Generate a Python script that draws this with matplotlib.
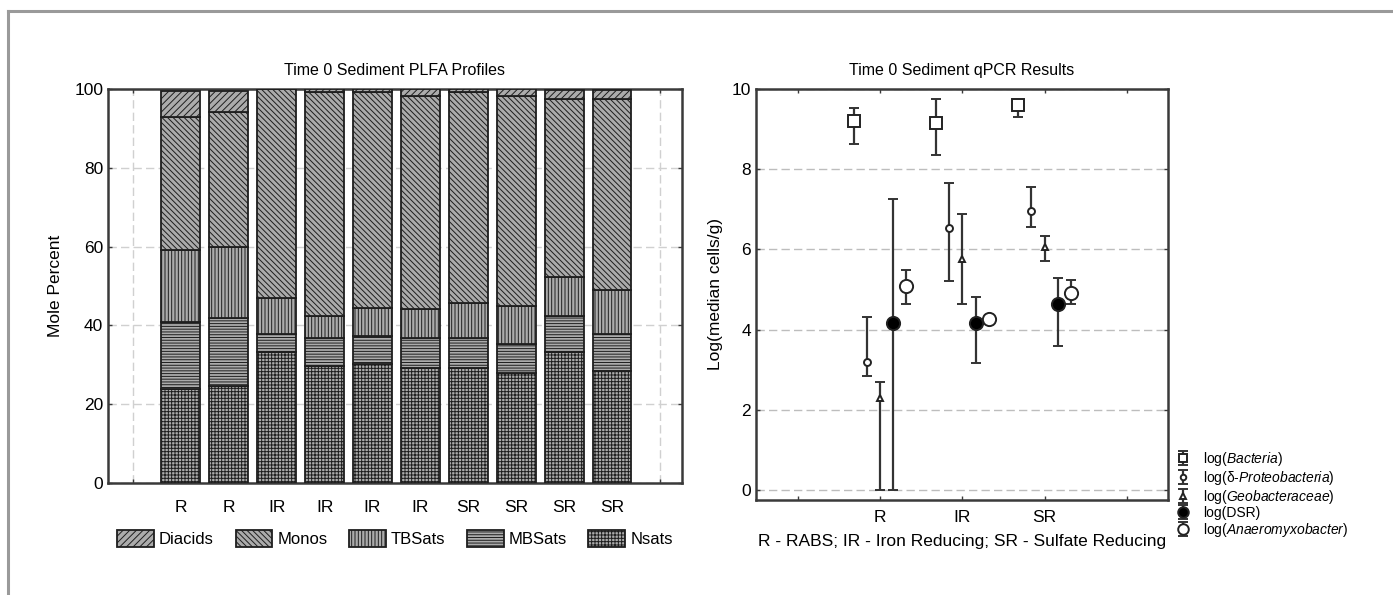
import matplotlib
matplotlib.use('Agg')
import matplotlib.pyplot as plt
from matplotlib.lines import Line2D
import numpy as np

plt.rcParams['font.family'] = ['Liberation Sans', 'DejaVu Sans']
plt.rcParams['mathtext.fontset'] = 'custom'
plt.rcParams['mathtext.rm'] = 'Liberation Sans'
plt.rcParams['mathtext.it'] = 'Liberation Sans:italic'
plt.rcParams['hatch.color'] = '#333333'
plt.rcParams['hatch.linewidth'] = 0.7

# PLFA profiles (mole percent), one value per sample
plfa_samples = ['R', 'R', 'IR', 'IR', 'IR', 'IR', 'SR', 'SR', 'SR', 'SR']
nsats = [23.8, 24.6, 33.3, 29.7, 30.1, 29.2, 29.2, 28.0, 33.3, 28.4]
mbsats = [17.1, 17.3, 4.4, 7.1, 7.1, 7.6, 7.6, 7.2, 9.0, 9.5]
tbsats = [18.2, 17.9, 9.3, 5.6, 7.2, 7.3, 8.9, 9.7, 10.1, 11.1]
monos = [33.8, 34.3, 52.9, 56.8, 54.8, 54.2, 53.5, 53.4, 45.1, 48.5]
diacids = [6.5, 5.3, 0.1, 0.8, 0.8, 1.7, 0.8, 1.7, 2.3, 2.3]

# qPCR results: median log cells/g with lower / upper bounds
qpcr_groups = ['R', 'IR', 'SR']
bacteria = [9.21, 9.14, 9.60]
bacteria_lo = [8.62, 8.35, 9.30]
bacteria_hi = [9.53, 9.74, 9.65]
delta = [3.18, 6.53, 6.95]
delta_lo = [2.84, 5.22, 6.55]
delta_hi = [4.31, 7.65, 7.55]
geo = [2.29, 5.75, 6.05]
geo_lo = [0.0, 4.64, 5.72]
geo_hi = [2.70, 6.88, 6.33]
dsr = [4.17, 4.17, 4.64]
dsr_lo = [0.0, 3.16, 3.59]
dsr_hi = [7.26, 4.82, 5.29]
anaero = [5.09, 4.26, 4.90]
anaero_lo = [4.64, 4.18, 4.64]
anaero_hi = [5.49, 4.36, 5.24]

W, H = 1393, 595
fig = plt.figure(figsize=(W / 100, H / 100), dpi=100)

# gray border of the panel
fig.add_artist(Line2D([8 / W, 8 / W], [0, 1 - 11 / H], color='#9a9a9a', lw=2.2))
fig.add_artist(Line2D([8 / W, 1], [1 - 11 / H, 1 - 11 / H], color='#9a9a9a', lw=2.2))

frame_col = '#3a3a3a'

# ---------------- left: stacked PLFA bars ----------------
ax1 = fig.add_axes([108 / W, 1 - 483 / H, 574 / W, 394 / H])
x = np.arange(1, len(plfa_samples) + 1)
segments = [
    ('Nsats', nsats, '+++++'),
    ('MBSats', mbsats, '------'),
    ('TBSats', tbsats, '|||||'),
    ('Monos', monos, '\\\\\\\\\\\\'),
    ('Diacids', diacids, '/////'),
]
bottom = np.zeros(len(x))
handles = {}
for name, vals, hatch in segments:
    b = ax1.bar(x, vals, 0.81, bottom=bottom, color='#ababab', edgecolor='#1e1e1e',
                linewidth=1.3, hatch=hatch, label=name, zorder=3)
    handles[name] = b
    bottom += np.array(vals)

ax1.set_xlim(-0.52, 11.46)
ax1.set_ylim(0, 100)
ax1.set_xticks(np.arange(0, 12))
ax1.set_xticklabels([''] + plfa_samples + [''])
ax1.set_yticks([0, 20, 40, 60, 80, 100])
ax1.tick_params(direction='in', top=True, right=True, length=3, width=1,
                labelsize=12.5, color=frame_col)
ax1.tick_params(axis='x', pad=12)
ax1.grid(True, color='#d0d0d0', linestyle=(0, (6, 3)), linewidth=1, zorder=0)
for s in ax1.spines.values():
    s.set_linewidth(1.8)
    s.set_color(frame_col)
ax1.set_title('Time 0 Sediment PLFA Profiles', fontsize=11.5, pad=10)
ax1.set_ylabel('Mole Percent', fontsize=12.5, labelpad=8)

order = ['Diacids', 'Monos', 'TBSats', 'MBSats', 'Nsats']
ax1.legend([handles[n] for n in order], order, ncol=5, loc='center',
           bbox_to_anchor=(0.5, -0.14), frameon=False, fontsize=12,
           handlelength=2.2, handleheight=1.2, columnspacing=1.3, handletextpad=0.3)

# ---------------- right: qPCR errorbars ----------------
ax2 = fig.add_axes([756 / W, 1 - 500 / H, 412 / W, 411 / H])
gx = np.arange(1, len(qpcr_groups) + 1)
series = [
    ('log($\\mathit{Bacteria}$)', bacteria, bacteria_lo, bacteria_hi, -0.32, 's', 'white', 8),
    ('log(δ-$\\mathit{Proteobacteria}$)', delta, delta_lo, delta_hi, -0.16, 'o', 'white', 5),
    ('log($\\mathit{Geobacteraceae}$)', geo, geo_lo, geo_hi, 0.0, '^', 'white', 5),
    ('log(DSR)', dsr, dsr_lo, dsr_hi, 0.16, 'o', 'black', 9.5),
    ('log($\\mathit{Anaeromyxobacter}$)', anaero, anaero_lo, anaero_hi, 0.32, 'o', 'white', 9.5),
]
ebs = []
for label, med, lo, hi, off, mk, fc, ms in series:
    med = np.array(med)
    yerr = [med - np.array(lo), np.array(hi) - med]
    eb = ax2.errorbar(gx + off, med, yerr=yerr, fmt=mk, mfc=fc, mec='#222222', mew=1.4,
                      ms=ms, ecolor='#333333', elinewidth=1.6, capsize=3.5, capthick=1.6,
                      label=label, zorder=3)
    ebs.append(eb)

ax2.set_xlim(-0.51, 4.5)
ax2.set_ylim(-0.25, 10)
ax2.set_xticks(np.arange(0, 5))
ax2.set_xticklabels([''] + qpcr_groups + [''])
ax2.set_yticks([0, 2, 4, 6, 8, 10])
ax2.tick_params(direction='in', top=True, right=True, length=3, width=1,
                labelsize=12.5, color=frame_col)
ax2.tick_params(axis='x', pad=7)
ax2.yaxis.grid(True, color='#bdbdbd', linestyle=(0, (6, 3)), linewidth=1, zorder=0)
for s in ax2.spines.values():
    s.set_linewidth(1.8)
    s.set_color(frame_col)
ax2.set_title('Time 0 Sediment qPCR Results', fontsize=11.5, pad=10)
ax2.set_ylabel('Log(median cells/g)', fontsize=12.5, labelpad=6)
ax2.set_xlabel('R - RABS; IR - Iron Reducing; SR - Sulfate Reducing', fontsize=12.5, labelpad=7)

ax2.legend(ebs, [s[0] for s in series], loc='lower left', bbox_to_anchor=(0.995, -0.115),
           frameon=False, fontsize=10, handlelength=1.3, labelspacing=0.05,
           handletextpad=0.8, borderaxespad=0.2, markerscale=0.8)

fig.savefig('out.png', dpi=100)
